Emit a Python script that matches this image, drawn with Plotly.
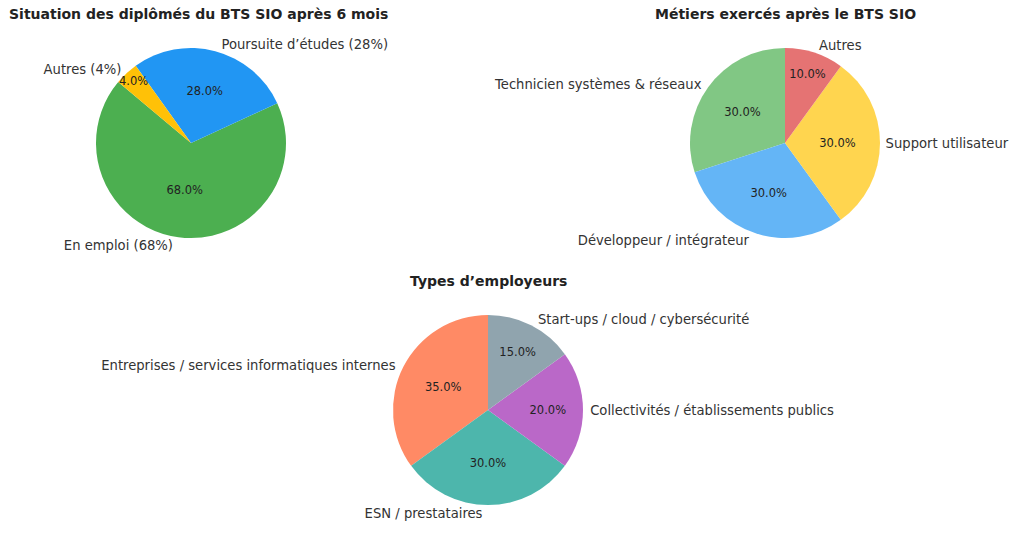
import plotly.graph_objects as go

# Data
sit_labels = ["En emploi (68%)", "Poursuite d’études (28%)", "Autres (4%)"]
sit_values = [68, 28, 4]
sit_colors = ["#4CAF50", "#2196F3", "#FFC107"]

met_labels = ["Technicien systèmes & réseaux", "Développeur / intégrateur", "Support utilisateur", "Autres"]
met_values = [30, 30, 30, 10]
met_colors = ["#81C784", "#64B5F6", "#FFD54F", "#E57373"]

emp_labels = ["Entreprises / services informatiques internes", "ESN / prestataires",
              "Collectivités / établissements publics", "Start-ups / cloud / cybersécurité"]
emp_values = [35, 30, 20, 15]
emp_colors = ["#FF8A65", "#4DB6AC", "#BA68C8", "#90A4AE"]

titles = ["Situation des diplômés du BTS SIO après 6 mois",
          "Métiers exercés après le BTS SIO",
          "Types d’employeurs"]

W, H = 1024, 537
FONT = "DejaVu Sans"

def dom(cx, cy, r):
    return dict(x=[(cx - r) / W, (cx + r) / W], y=[1 - (cy + r) / H, 1 - (cy - r) / H])

def ccw_rotation(start_deg, values):
    # matplotlib-style counterclockwise start angle -> plotly rotation in ccw mode
    return (90 - start_deg) - 360 * values[0] / sum(values)

fig = go.Figure()

def add_pie(labels, values, colors, domain, start):
    rot = ccw_rotation(start, values)
    fig.add_trace(go.Pie(
        labels=labels, values=values, sort=False, direction="counterclockwise",
        rotation=rot, domain=domain, automargin=False,
        marker=dict(colors=colors, line=dict(width=0)),
        texttemplate="%{percent:.1%}", textposition="inside",
        insidetextorientation="horizontal",
        insidetextfont=dict(family=FONT, size=11.5, color="#222222"),
        showlegend=False, hoverinfo="label+percent",
    ))
    fig.add_trace(go.Pie(
        labels=labels, values=values, sort=False, direction="counterclockwise",
        rotation=rot, domain=domain, automargin=False,
        marker=dict(colors=["rgba(0,0,0,0)"] * len(values), line=dict(width=0)),
        texttemplate="%{label}", textposition="outside",
        outsidetextfont=dict(family=FONT, size=13.5, color="#333333"),
        showlegend=False, hoverinfo="skip",
    ))

add_pie(sit_labels, sit_values, sit_colors, dom(191, 143, 95), 140)
add_pie(met_labels, met_values, met_colors, dom(785, 143, 95), 90)
add_pie(emp_labels, emp_values, emp_colors, dom(488, 410, 95), 90)

def ttl(text, x, y):
    return dict(text="<b>" + text + "</b>", x=x / W, y=1 - y / H,
                xref="paper", yref="paper", showarrow=False, xanchor="center", yanchor="middle",
                font=dict(family=FONT, size=14, color="#222222"))

ann = [ttl(titles[0], 198, 14), ttl(titles[1], 785, 14), ttl(titles[2], 488, 281)]

fig.update_layout(
    width=W, height=H, margin=dict(l=0, r=0, t=0, b=0, autoexpand=False),
    paper_bgcolor="white", plot_bgcolor="white",
    annotations=ann, font=dict(family=FONT),
    uniformtext=dict(minsize=11.5, mode="show"),
)

fig.write_html("out.html", config={"displayModeBar": False},
               post_script="document.body.style.margin='0';document.body.style.overflow='hidden';")
